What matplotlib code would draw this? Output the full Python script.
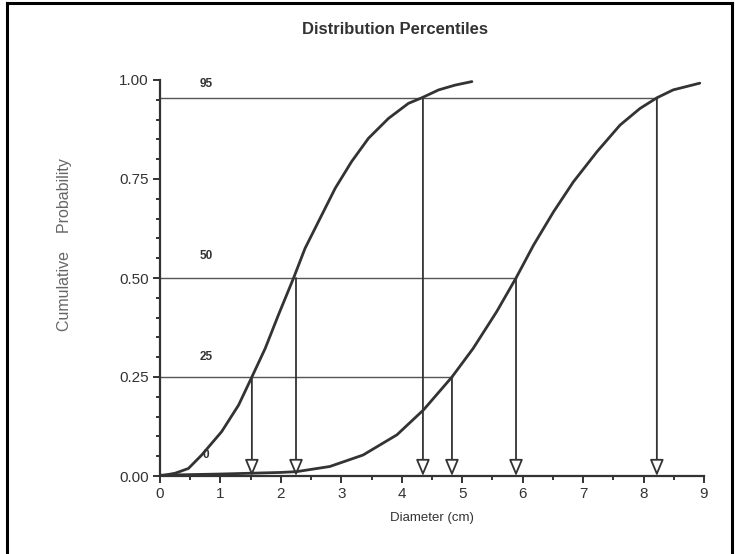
import numpy as np
import matplotlib.pyplot as plt
from matplotlib.lines import Line2D
from matplotlib.ticker import MultipleLocator

plt.rcParams["font.family"] = ["Liberation Sans", "DejaVu Sans"]

# curve values
curve_a_x = [0, 0.25, 0.47, 0.69, 1.02, 1.30, 1.52, 1.74, 1.96, 2.21, 2.40, 2.62, 2.90,
             3.17, 3.45, 3.78, 4.11, 4.33, 4.61, 4.88, 5.16]
curve_a_y = [0, 0.007, 0.019, 0.053, 0.112, 0.179, 0.25, 0.322, 0.407, 0.5, 0.575, 0.642, 0.727,
             0.794, 0.853, 0.903, 0.941, 0.955, 0.975, 0.987, 0.996]
curve_b_x = [0, 1.0, 1.5, 2.0, 2.26, 2.81, 3.36, 3.92, 4.36, 4.83, 5.18, 5.57, 5.89, 6.18,
             6.51, 6.84, 7.23, 7.61, 7.94, 8.22, 8.49, 8.93]
curve_b_y = [0.002, 0.005, 0.007, 0.009, 0.011, 0.024, 0.053, 0.104, 0.167, 0.25, 0.322, 0.415,
             0.5, 0.583, 0.667, 0.743, 0.819, 0.886, 0.928, 0.955, 0.975, 0.992]

pct_levels = [0.955, 0.50, 0.25]
pct_right_end = [8.22, 5.89, 4.83]
pct_labels = ["95", "50", "25", "0"]
pct_label_y = [0.99, 0.556, 0.30, 0.053]
arrow_x = [1.52, 2.25, 4.35, 4.83, 5.89, 8.22]
arrow_top = [0.25, 0.50, 0.955, 0.25, 0.50, 0.955]

dark = "#333333"

fig = plt.figure(figsize=(7.35, 5.54), dpi=100)
ax = fig.add_axes([160 / 735, 1 - 476 / 554, 544 / 735, 396 / 554])

# horizontal percentile lines
for lvl, xe in zip(pct_levels, pct_right_end):
    ax.plot([0, xe], [lvl, lvl], color="#555555", lw=1.0, zorder=1)

# vertical arrows
for xa, yt in zip(arrow_x, arrow_top):
    ax.annotate("", xy=(xa, 0.0), xytext=(xa, yt),
                arrowprops=dict(arrowstyle="-|>,head_length=1.0,head_width=0.42",
                                color=dark, lw=1.3, fc="white", shrinkA=0, shrinkB=0),
                zorder=2)

ax.plot(curve_a_x, curve_a_y, color=dark, lw=2.0, zorder=3, solid_capstyle="round")
ax.plot(curve_b_x, curve_b_y, color=dark, lw=2.0, zorder=3, solid_capstyle="round")

for lab, ly in zip(pct_labels, pct_label_y):
    ax.text(0.76, ly, lab, fontsize=8.5, fontweight="bold", color=dark,
            ha="center", va="center")

ax.set_xlim(0, 9)
ax.set_ylim(0, 1)
ax.xaxis.set_major_locator(MultipleLocator(1))
ax.xaxis.set_minor_locator(MultipleLocator(0.5))
ax.yaxis.set_major_locator(MultipleLocator(0.25))
ax.yaxis.set_minor_locator(MultipleLocator(0.05))
ax.set_yticklabels([f"{v:.2f}" for v in ax.get_yticks()])
for s in ["top", "right"]:
    ax.spines[s].set_visible(False)
for s in ["left", "bottom"]:
    ax.spines[s].set_color(dark)
    ax.spines[s].set_linewidth(1.6)
ax.tick_params(which="major", length=5, width=1.4, color=dark, labelsize=11, labelcolor=dark, pad=3)
ax.tick_params(which="minor", length=3, width=1.4, color=dark)

ax.set_xlabel("Diameter (cm)", fontsize=9.5, color=dark, labelpad=8)
fig.text(65 / 735, 1 - 245 / 554, "Cumulative    Probability", rotation=90,
         fontsize=11.5, color="#666666", ha="center", va="center")
fig.text(395 / 735, 1 - 30 / 554, "Distribution Percentiles", fontsize=12,
         fontweight="bold", color=dark, ha="center", va="center")

# frame around the figure (no bottom edge)
for xs, ys in [([7 / 735, 7 / 735], [0, 1 - 3 / 554]),
               ([7 / 735, 732 / 735], [1 - 3 / 554, 1 - 3 / 554]),
               ([732 / 735, 732 / 735], [1 - 3 / 554, 0])]:
    fig.add_artist(Line2D(xs, ys, color="black", lw=2.2, transform=fig.transFigure))

fig.savefig("out.png", dpi=100)
